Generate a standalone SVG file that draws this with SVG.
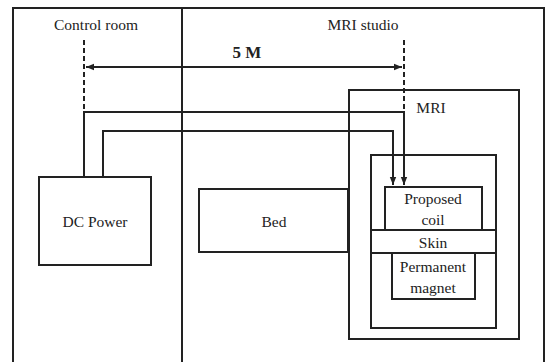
<svg xmlns="http://www.w3.org/2000/svg" width="546" height="362" viewBox="0 0 546 362">
<style>
.b{fill:none;stroke:#222;stroke-width:2}
.w{fill:none;stroke:#222;stroke-width:2}
.d{fill:none;stroke:#222;stroke-width:2;stroke-dasharray:5,3}
.t{font-family:'Liberation Serif','Times New Roman',serif;font-size:15.5px;fill:#222;text-anchor:middle}
.bold{font-weight:bold;font-size:17px}
</style>
<defs>
<marker id="ah" viewBox="0 0 10 10" refX="10" refY="5" markerWidth="4" markerHeight="4" orient="auto-start-reverse" markerUnits="strokeWidth">
<path d="M0,1 L10,5 L0,9 z" fill="#222"/>
</marker>
</defs>
<rect width="546" height="362" fill="#fff"/>
<g id="rooms">
<rect class="b" x="13" y="8" width="531" height="360"/>
<line class="b" x1="182" y1="8" x2="182" y2="362"/>
<text class="t" x="96" y="30">Control room</text>
<text class="t" x="363" y="30">MRI studio</text>
</g>
<g id="dcpower">
<rect class="b" x="39" y="177" width="112" height="88"/>
<text class="t" x="95" y="227">DC Power</text>
</g>
<g id="bed">
<rect class="b" x="199" y="189" width="149" height="63"/>
<text class="t" x="274" y="227">Bed</text>
</g>
<g id="mri">
<rect class="b" x="349" y="90" width="170" height="249"/>
<text class="t" x="431" y="113">MRI</text>
</g>
<g id="inner">
<rect class="b" x="371" y="155" width="125" height="173"/>
</g>
<g id="coil">
<rect class="b" x="385" y="187" width="97" height="43"/>
<text class="t" x="433" y="204">Proposed</text>
<text class="t" x="433" y="225">coil</text>
</g>
<g id="skin">
<rect class="b" x="371" y="230" width="125" height="23"/>
<text class="t" x="433" y="248">Skin</text>
</g>
<g id="magnet">
<rect class="b" x="392" y="253" width="83" height="46"/>
<text class="t" x="433" y="272">Permanent</text>
<text class="t" x="433" y="293">magnet</text>
</g>
<g id="connectors">
<line class="d" x1="84" y1="40" x2="84" y2="112"/>
<line class="d" x1="404" y1="40" x2="404" y2="112"/>
<line class="w" x1="86" y1="67" x2="402" y2="67" marker-start="url(#ah)" marker-end="url(#ah)"/>
<text class="t bold" x="247" y="58">5 M</text>
<polyline class="w" points="84,177 84,112 404,112 404,185" marker-end="url(#ah)"/>
<polyline class="w" points="103,177 103,131 393,131 393,185" marker-end="url(#ah)"/>
</g>
</svg>
